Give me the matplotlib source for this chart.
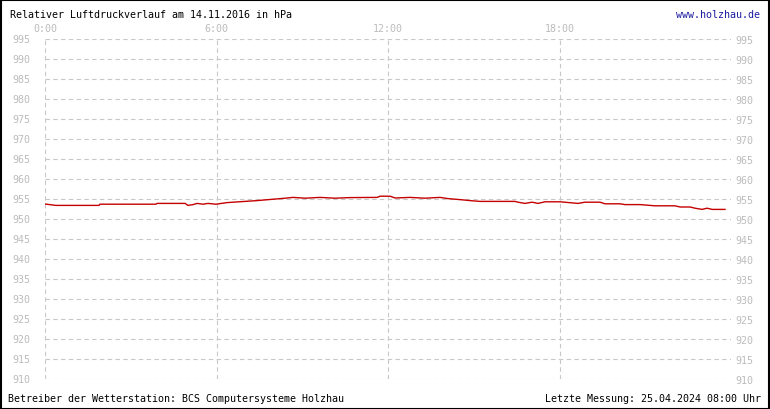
import matplotlib.pyplot as plt
from matplotlib.patches import Rectangle

# hours since 0:00 and relative pressure (hPa)
hours = [0.00, 0.38, 1.89, 1.92, 3.88, 3.92, 4.90, 5.00, 5.18, 5.32, 5.53, 5.70,
         5.98, 6.37, 7.42, 8.40, 8.68, 9.10, 9.62, 10.15, 10.67, 11.62, 11.72,
         12.07, 12.25, 12.77, 13.29, 13.82, 14.10, 14.59, 14.87, 15.22, 16.44,
         16.55, 16.79, 17.04, 17.25, 17.49, 18.02, 18.65, 18.89, 19.42, 19.59,
         20.12, 20.29, 20.82, 21.34, 22.04, 22.22, 22.57, 22.74, 22.99, 23.16,
         23.34, 23.79]
pressure = [953.75, 953.4, 953.4, 953.7, 953.7, 953.9, 953.9, 953.4, 953.6, 953.9,
            953.7, 953.9, 953.7, 954.1, 954.6, 955.2, 955.4, 955.2, 955.4, 955.2,
            955.35, 955.4, 955.7, 955.7, 955.25, 955.4, 955.2, 955.4, 955.1, 954.8,
            954.6, 954.4, 954.4, 954.2, 953.9, 954.2, 953.9, 954.3, 954.3, 953.9,
            954.2, 954.2, 953.8, 953.8, 953.6, 953.6, 953.3, 953.3, 953.0, 953.0,
            952.7, 952.4, 952.7, 952.4, 952.4]

y_ticks = list(range(910, 1000, 5))
x_ticks = [0, 6, 12, 18]
x_labels = ['0:00', '6:00', '12:00', '18:00']

title = 'Relativer Luftdruckverlauf am 14.11.2016 in hPa'
site = 'www.holzhau.de'
footer_left = 'Betreiber der Wetterstation: BCS Computersysteme Holzhau'
footer_right = 'Letzte Messung: 25.04.2024 08:00 Uhr'

W, H = 770, 410
FONT = 'DejaVu Sans Mono'; FS = 7.2; GREY = '#bcbcbc'

fig = plt.figure(figsize=(W/100, H/100), dpi=100)
ax = fig.add_axes([45/W, 1 - 380/H, 686/W, 340/H])

ax.plot(hours, pressure, color='#c40000', lw=1.0, zorder=3)

ax.set_xlim(0, 24); ax.set_ylim(910, 995)
ax.set_xticks(x_ticks); ax.set_xticklabels(x_labels)
ax.set_yticks(y_ticks)
ax.grid(True, color='#c8c8c8', lw=0.8, ls=(0, (4, 3)))
for s in ax.spines.values():
    s.set_visible(False)
ax.tick_params(axis='y', length=0, labelleft=False, labelright=True,
               labelsize=FS, labelcolor=GREY, pad=3)
ax.tick_params(axis='x', length=0, labeltop=True, labelbottom=False,
               labelsize=FS, labelcolor=GREY, pad=4)
for lab in ax.get_xticklabels() + ax.get_yticklabels():
    lab.set_family(FONT)
# left-hand labels sit further from the plot than the right-hand ones
for v in y_ticks:
    ax.annotate(str(v), (0, v), xycoords=('axes fraction', 'data'),
                xytext=(-15, 0), textcoords='offset pixels', ha='right', va='center',
                family=FONT, fontsize=FS, color=GREY)

fig.text(10/W, 1 - 15/H, title, family=FONT, fontsize=FS, va='center', ha='left')
fig.text(760/W, 1 - 15/H, site, family=FONT, fontsize=FS, va='center', ha='right',
         color='#1a1aa0')
fig.text(8/W, 1 - 399/H, footer_left, family=FONT, fontsize=FS, va='center', ha='left')
fig.text(761/W, 1 - 399/H, footer_right, family=FONT, fontsize=FS, va='center', ha='right')

fig.patches.append(Rectangle((0.5/W, 0.5/H), 1 - 1.5/W, 1 - 1.5/H, transform=fig.transFigure,
                             fill=False, ec='black', lw=1.5))

fig.savefig('out.png', dpi=100)
